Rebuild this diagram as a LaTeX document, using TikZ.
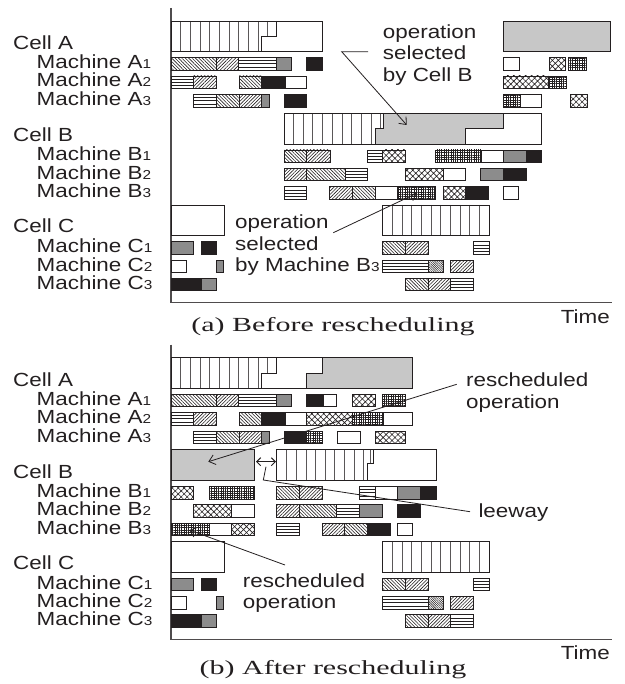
\documentclass[tikz,border=0pt]{standalone}
\usepackage{fontspec}
\setmainfont{Liberation Sans}[FakeStretch=1.18]
\newfontfamily\capfont{Liberation Serif}[FakeStretch=1.5]
\usetikzlibrary{patterns.meta,arrows.meta,calc}
\definecolor{ink}{HTML}{231F20}
\definecolor{opgray}{gray}{0.55}
\definecolor{cellgray}{gray}{0.78}
% small machine index digit
\newcommand\dg[1]{{\fontsize{13}{13}\selectfont #1}}
% one operation bar: style, start, end, row top
\newcommand\opbar[4]{\draw[#1] (#2,#4) rectangle (#3,#4+12.5);}
% row tops of the machine lines
\newcommand\rAi{57.5}
\newcommand\rAii{76}
\newcommand\rAiii{94.5}
\newcommand\rBi{150}
\newcommand\rBii{168.3}
\newcommand\rBiii{186.7}
\newcommand\rCi{241.7}
\newcommand\rCii{260}
\newcommand\rCiii{278.3}
% parts shared by both schedules
\newcommand\panelcommon[1]{%
  \draw[axis] (171,8) -- (171,302.7) -- (612,302.7);
  \node[anchor=base east] (#1time) at (610,323) {Time};
  \node[anchor=base west] (#1cellA) at (13,49.5) {Cell A};
  \node[anchor=base west] (#1mAi) at (36.5,68.5) {Machine A\dg{1}};
  \node[anchor=base west] (#1mAii) at (36.5,87) {Machine A\dg{2}};
  \node[anchor=base west] (#1mAiii) at (36.5,105.5) {Machine A\dg{3}};
  \node[anchor=base west] (#1cellB) at (13,141.5) {Cell B};
  \node[anchor=base west] (#1mBi) at (36.5,161) {Machine B\dg{1}};
  \node[anchor=base west] (#1mBii) at (36.5,179.3) {Machine B\dg{2}};
  \node[anchor=base west] (#1mBiii) at (36.5,197.7) {Machine B\dg{3}};
  \node[anchor=base west] (#1cellC) at (13,233) {Cell C};
  \node[anchor=base west] (#1mCi) at (36.5,252.7) {Machine C\dg{1}};
  \node[anchor=base west] (#1mCii) at (36.5,271) {Machine C\dg{2}};
  \node[anchor=base west] (#1mCiii) at (36.5,289.3) {Machine C\dg{3}};
  % cell A: finished part
  \foreach \k in {0,...,8}{\draw[stripe] ({180.7+\k*9.66},21) -- ++(0,30.7);}
  \draw[stripe] (267.7,21) -- (267.7,36.7);
  \draw[bx] (276.7,21) -- (276.7,36.7) -- (261.7,36.7) -- (261.7,51.7);
  % cell C
  \draw[bx] (171,205) rectangle (224.3,235.7);
  \foreach \k in {0,...,9}{\draw[stripe] ({392.3+\k*9.67},205) -- ++(0,30.7);}
  \draw[bx] (382.3,205) rectangle (489,235.7);
  \opbar{gy}{171}{193.3}{\rCi}
  \opbar{bk}{201}{216.7}{\rCi}
  \opbar{hN}{382.3}{405}{\rCi}
  \opbar{hS}{405}{428.3}{\rCi}
  \opbar{hH}{473.3}{489}{\rCi}
  \opbar{wt}{171}{186}{\rCii}
  \opbar{gy}{216}{223.3}{\rCii}
  \opbar{hH}{382.3}{428.3}{\rCii}
  \opbar{dn}{428.3}{443.3}{\rCii}
  \opbar{hS}{450.7}{473.3}{\rCii}
  \opbar{bk}{171}{201.7}{\rCiii}
  \opbar{gy}{201.7}{216.7}{\rCiii}
  \opbar{hN}{405}{428.3}{\rCiii}
  \opbar{hS}{428.3}{450.7}{\rCiii}
  \opbar{hH}{450.7}{473.3}{\rCiii}
  % machine A lines, left part
  \opbar{hN}{171}{216}{\rAi}
  \opbar{hS}{216}{238.3}{\rAi}
  \opbar{hH}{238.3}{276.7}{\rAi}
  \opbar{gy}{276.7}{291.7}{\rAi}
  \opbar{hH}{171}{193.3}{\rAii}
  \opbar{hS}{193.3}{216}{\rAii}
  \opbar{hN}{239}{261.7}{\rAii}
  \opbar{bk}{261.7}{285}{\rAii}
  \opbar{wt}{285}{306.7}{\rAii}
  \opbar{hH}{193.3}{216}{\rAiii}
  \opbar{hN}{216}{239}{\rAiii}
  \opbar{hS}{239}{261.7}{\rAiii}
  \opbar{gy}{261.7}{269}{\rAiii}
  \opbar{bk}{284}{306.7}{\rAiii}
}
\begin{document}
\begin{tikzpicture}[x=1pt,y=-1pt,
  every node/.style={font=\fontsize{19}{21.5}\selectfont,text=ink,inner sep=0pt},
  bx/.style={draw=ink,line width=0.9pt},
  hN/.style={bx,pattern={Lines[angle=-45,distance=2.4pt,line width=0.6pt]},pattern color=ink},
  hS/.style={bx,pattern={Lines[angle=45,distance=2.4pt,line width=0.6pt]},pattern color=ink},
  hH/.style={bx,fill=white,path picture={
      \foreach \f in {0.25,0.5,0.75}{
        \draw[ink,line width=0.6pt]
          ($(path picture bounding box.north west)!\f!(path picture bounding box.south west)$) --
          ($(path picture bounding box.north east)!\f!(path picture bounding box.south east)$);}}},
  xh/.style={bx,pattern={Hatch[angle=45,distance=4.2pt,line width=0.6pt]},pattern color=ink},
  gr/.style={bx,pattern={Hatch[angle=0,distance=2.3pt,line width=0.5pt]},pattern color=ink},
  dn/.style={bx,pattern={Lines[angle=-45,distance=1.6pt,line width=0.55pt]},pattern color=ink},
  gy/.style={bx,fill=opgray},
  bk/.style={bx,fill=ink},
  wt/.style={bx,fill=white},
  stripe/.style={draw=ink!75,line width=0.7pt},
  axis/.style={draw=ink!80,line width=1.1pt},
  lead/.style={draw=ink,line width=0.8pt},
  >={Straight Barb[length=6pt,width=10pt]},
  caption/.style={font=\capfont\fontsize{20}{20}\selectfont}]
\useasboundingbox (0,0) rectangle (624,684);

% ---------- schedule before rescheduling ----------
\panelcommon{a}
\draw[bx] (171,21) rectangle (322.3,51.7);
\draw[bx,fill=cellgray] (503.3,21) rectangle (610,51.7);
\opbar{bk}{306.7}{322.3}{\rAi}
\opbar{wt}{503.3}{519}{\rAi}
\opbar{xh}{549}{565}{\rAi}
\opbar{gr}{568}{586}{\rAi}
\opbar{xh}{503.3}{548.3}{\rAii}
\opbar{gr}{548.3}{566}{\rAii}
\opbar{gr}{503.3}{520}{\rAiii}
\opbar{wt}{520}{541.7}{\rAiii}
\opbar{xh}{570}{587}{\rAiii}
% cell B
\fill[cellgray] (383.3,113.3) -- (383.3,128.3) -- (375,128.3) -- (375,144)
  -- (465.7,144) -- (465.7,128.3) -- (503.3,128.3) -- (503.3,113.3) -- cycle;
\foreach \k in {0,...,8}{\draw[stripe] ({293.3+\k*9.71},113.3) -- ++(0,30.7);}
\draw[stripe] (380,113.3) -- (380,128.3);
\draw[bx] (383.3,113.3) -- (383.3,128.3) -- (375,128.3) -- (375,144);
\draw[bx] (465.7,144) -- (465.7,128.3) -- (503.3,128.3) -- (503.3,113.3);
\draw[bx] (284,113.3) rectangle (541.7,144);
\opbar{hN}{284}{306.7}{\rBi}
\opbar{hS}{306.7}{330}{\rBi}
\opbar{hH}{367.3}{382.3}{\rBi}
\opbar{xh}{382.3}{405.7}{\rBi}
\opbar{gr}{435.7}{481.7}{\rBi}
\opbar{wt}{481.7}{503.3}{\rBi}
\opbar{gy}{503.3}{526}{\rBi}
\opbar{bk}{526}{541.7}{\rBi}
\opbar{hS}{284}{306.7}{\rBii}
\opbar{hN}{306.7}{345}{\rBii}
\opbar{hH}{345}{367.7}{\rBii}
\opbar{xh}{405}{443.3}{\rBii}
\opbar{wt}{443.3}{465.7}{\rBii}
\opbar{gy}{480.7}{503.3}{\rBii}
\opbar{bk}{503.3}{526}{\rBii}
\opbar{hH}{284}{306.7}{\rBiii}
\opbar{hS}{329.3}{352.3}{\rBiii}
\opbar{hN}{352.3}{375}{\rBiii}
\opbar{wt}{375}{397.7}{\rBiii}
\opbar{gr}{397.7}{435.7}{\rBiii}
\opbar{xh}{443.3}{465.7}{\rBiii}
\opbar{bk}{465.7}{488.3}{\rBiii}
\opbar{wt}{503.3}{518.3}{\rBiii}
% callouts (multi-line nodes are placed by the baseline of their last line)
\node[anchor=base west,align=left] (selcell) at (382.7,81.5) {operation\\selected\\by Cell B};
\coordinate (selcellS) at (368,51.7);
\coordinate (selcellK) at (341.7,51.7);
\coordinate (selcellT) at (406.7,125);
\draw[lead,->] (selcellS) -- (selcellK) -- (selcellT);
\node[anchor=base west,align=left] (selmach) at (235,271.5) {operation\\selected\\by Machine B\dg{3}};
\coordinate (selmachS) at (333.3,232.7);
\coordinate (selmachT) at (416.7,193.3);
\draw[lead,->] (selmachS) -- (selmachT);
\node[caption,anchor=base] (capa) at (333,331) {(a) Before rescheduling};

% ---------- schedule after rescheduling ----------
\begin{scope}[yshift=-336.5pt]
\panelcommon{b}
\fill[cellgray] (322.3,21) -- (412.7,21) -- (412.7,51.7) -- (306.7,51.7) -- (306.7,36.7) -- (322.3,36.7) -- cycle;
\draw[bx] (322.3,21) -- (322.3,36.7) -- (306.7,36.7) -- (306.7,51.7);
\draw[bx] (171,21) rectangle (412.7,51.7);
\opbar{bk}{306.7}{323.3}{\rAi}
\opbar{wt}{323.3}{336.7}{\rAi}
\opbar{xh}{352.3}{375}{\rAi}
\opbar{gr}{382.3}{405}{\rAi}
\opbar{xh}{306.7}{352.3}{\rAii}
\opbar{gr}{352.3}{383.3}{\rAii}
\opbar{wt}{383.3}{412.7}{\rAii}
\opbar{gr}{306.7}{322.3}{\rAiii}
\opbar{wt}{337.3}{360}{\rAiii}
\opbar{xh}{375}{405}{\rAiii}
% cell B
\draw[bx,fill=cellgray] (171,113.3) rectangle (254.3,144);
\foreach \k in {0,...,8}{\draw[stripe] ({286.7+\k*9.6},113.3) -- ++(0,30.7);}
\draw[stripe] (370,113.3) -- (370,126.8);
\draw[bx] (373.3,113.3) -- (373.3,126.8) -- (367.3,126.8) -- (367.3,144);
\draw[bx] (276.7,113.3) rectangle (436,144);
\opbar{xh}{171}{193.3}{\rBi}
\opbar{gr}{209}{254.3}{\rBi}
\opbar{hN}{276.7}{299.3}{\rBi}
\opbar{hS}{299.3}{322.3}{\rBi}
\opbar{hH}{359.3}{375}{\rBi}
\opbar{wt}{375}{397.7}{\rBi}
\opbar{gy}{397.7}{420}{\rBi}
\opbar{bk}{420}{436}{\rBi}
\opbar{xh}{193.3}{231.7}{\rBii}
\opbar{wt}{231.7}{254.3}{\rBii}
\opbar{hS}{276.7}{299.3}{\rBii}
\opbar{hN}{299.3}{336.7}{\rBii}
\opbar{hH}{336.7}{359.3}{\rBii}
\opbar{gy}{359.3}{382.3}{\rBii}
\opbar{bk}{397.7}{420.7}{\rBii}
\opbar{gr}{171}{209}{\rBiii}
\opbar{wt}{209}{231.7}{\rBiii}
\opbar{xh}{231.7}{254.3}{\rBiii}
\opbar{hH}{276.7}{299.3}{\rBiii}
\opbar{hS}{322.3}{344.3}{\rBiii}
\opbar{hN}{344.3}{367.3}{\rBiii}
\opbar{bk}{367.3}{390}{\rBiii}
\opbar{wt}{397.7}{412.7}{\rBiii}
% callouts
\node[anchor=base west,align=left] (resA) at (466,71.5) {rescheduled\\operation};
\coordinate (resAS) at (456.7,47.8);
\coordinate (resAT) at (208.3,125.2);
\draw[lead,->] (resAS) -- (resAT);
\coordinate (leewayL) at (256,125.2);
\coordinate (leewayR) at (276,125.2);
\draw[lead,line width=1pt,<->,>={Straight Barb[length=4pt,width=8pt]}] (leewayL) -- (leewayR);
\node[anchor=base west] (leeway) at (478.3,180.8) {leeway};
\coordinate (leewayS) at (266,130.2);
\coordinate (leewayK) at (263.3,143.5);
\coordinate (leewayE) at (470,175.2);
\draw[lead] (leewayS) -- (leewayK) -- (leewayE);
\node[anchor=base west,align=left] (resB) at (242.7,272) {rescheduled\\operation};
\coordinate (resBS) at (285,228.5);
\coordinate (resBT) at (189.3,193.5);
\draw[lead,->] (resBS) -- (resBT);
\node[caption,anchor=base] (capb) at (333,337.5) {(b) After rescheduling};
\end{scope}
\end{tikzpicture}
\end{document}
